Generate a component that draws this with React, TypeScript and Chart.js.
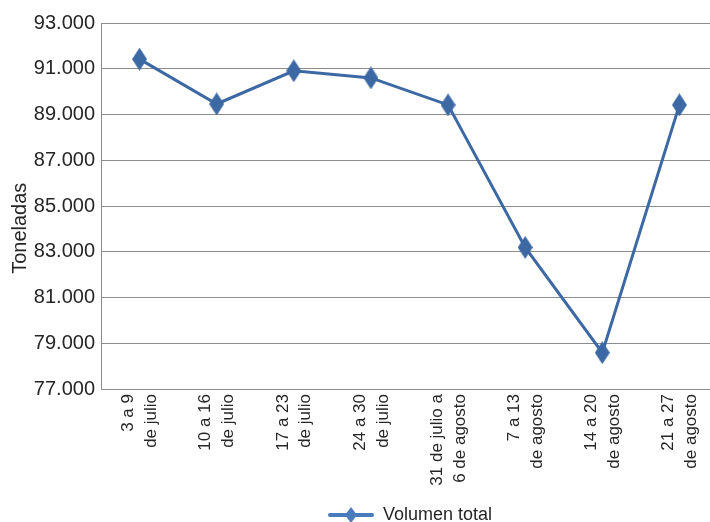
import { useEffect, useRef } from 'react';
import { Chart, registerables } from 'chart.js';

Chart.register(...registerables);

const categories: string[][] = [
  ['3 a 9', 'de julio'],
  ['10 a 16', 'de julio'],
  ['17 a 23', 'de julio'],
  ['24 a 30', 'de julio'],
  ['31 de julio a', '6 de agosto'],
  ['7 a 13', 'de agosto'],
  ['14 a 20', 'de agosto'],
  ['21 a 27', 'de agosto'],
];
const volumenTotal = [91420, 89460, 90910, 90600, 89420, 83190, 78590, 89420];
const seriesLabel = 'Volumen total';
const yTitle = 'Toneladas';
const yMin = 77000;
const yMax = 93000;
const yStep = 2000;

const FONT = '"Liberation Sans", Arial, sans-serif';
const LINE = '#3C69A3';
const LEGEND_BLUE = '#4A7CBC';

function makeDiamond(w: number, h: number, color: string) {
  const c = document.createElement('canvas');
  c.width = w;
  c.height = h;
  const ctx = c.getContext('2d')!;
  ctx.fillStyle = color;
  ctx.beginPath();
  ctx.moveTo(w / 2, 0);
  ctx.lineTo(w, h / 2);
  ctx.lineTo(w / 2, h);
  ctx.lineTo(0, h / 2);
  ctx.closePath();
  ctx.fill();
  return c;
}

function makeLegendIcon(w: number, h: number) {
  const c = document.createElement('canvas');
  c.width = w;
  c.height = h;
  const ctx = c.getContext('2d')!;
  ctx.strokeStyle = LEGEND_BLUE;
  ctx.lineWidth = 4;
  ctx.lineCap = 'round';
  ctx.beginPath();
  ctx.moveTo(2, h / 2);
  ctx.lineTo(w - 2, h / 2);
  ctx.stroke();
  const d = makeDiamond(12, 16, LEGEND_BLUE);
  ctx.drawImage(d, (w - 12) / 2, (h - 16) / 2);
  return c;
}

function fmt(v: number) {
  const s = Math.round(v).toString();
  return s.replace(/\B(?=(\d{3})+(?!\d))/g, '.');
}

export default function App() {
  const ref = useRef<HTMLCanvasElement | null>(null);
  useEffect(() => {
    if (!ref.current) return;
    const diamond = makeDiamond(15, 23, LINE);
    const legendIcon = makeLegendIcon(46, 18);
    const chart = new Chart(ref.current, {
      type: 'line',
      data: {
        labels: categories,
        datasets: [
          {
            label: seriesLabel,
            data: volumenTotal,
            borderColor: LINE,
            backgroundColor: LINE,
            borderWidth: 3,
            pointStyle: diamond as any,
            pointRadius: 8,
            tension: 0,
            yAxisID: 'y',
          },
        ],
      },
      options: {
        responsive: false,
        animation: false,
        devicePixelRatio: 1,
        layout: { padding: { top: 23, left: 0, right: 0, bottom: -12 } },
        plugins: {
          tooltip: { enabled: false },
          legend: {
            position: 'bottom',
            labels: {
              usePointStyle: true,
              pointStyleWidth: 46,
              color: '#262626',
              font: { family: FONT, size: 18 },
              padding: 0,
              generateLabels: () => [
                {
                  text: seriesLabel,
                  pointStyle: legendIcon as any,
                  fillStyle: LEGEND_BLUE,
                  strokeStyle: LEGEND_BLUE,
                  lineWidth: 0,
                  hidden: false,
                  datasetIndex: 0,
                  fontColor: '#262626',
                } as any,
              ],
            },
          },
        },
        scales: {
          x: {
            offset: true,
            grid: { display: false, drawTicks: false },
            border: { display: true, color: '#8C8C8C', width: 1 },
            ticks: {
              color: '#262626',
              font: { family: FONT, size: 17, lineHeight: 1.35 },
              maxRotation: 90,
              minRotation: 90,
              padding: 5,
              autoSkip: false,
              labelOffset: -11,
            },
            afterFit: (s: any) => {
              s.height = 117;
            },
          },
          y: {
            position: 'left',
            min: yMin,
            max: yMax,
            grid: { color: '#8C8C8C', lineWidth: 1, drawTicks: false },
            border: { display: true, color: '#8C8C8C', width: 1 },
            ticks: {
              stepSize: yStep,
              color: '#262626',
              font: { family: FONT, size: 20 },
              padding: 6,
              callback: (v: any) => fmt(Number(v)),
            },
            title: {
              display: true,
              text: yTitle + '\u00A0'.repeat(8),
              color: '#262626',
              font: { family: FONT, size: 20 },
              padding: { top: 8, bottom: 2 },
            },
            afterFit: (s: any) => {
              s.width = 101;
            },
          },
          y2: {
            position: 'right',
            display: true,
            grid: { display: false },
            border: { display: false },
            ticks: { display: false },
            afterFit: (s: any) => {
              s.width = 102;
            },
          },
        },
      },
    });
    return () => chart.destroy();
  }, []);
  return (
    <div
      style={{
        position: 'fixed',
        left: 0,
        top: 0,
        width: 710,
        height: 522,
        overflow: 'hidden',
        background: '#fff',
      }}
    >
      <canvas ref={ref} width={820} height={522} style={{ display: 'block' }} />
    </div>
  );
}
